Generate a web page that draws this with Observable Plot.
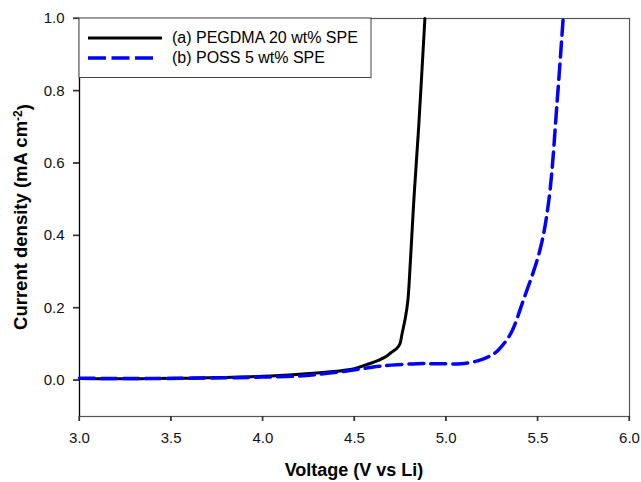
<!DOCTYPE html>
<html>
<head>
<meta charset="utf-8">
<script src="https://cdn.jsdelivr.net/npm/d3@7"></script>
<script src="https://cdn.jsdelivr.net/npm/@observablehq/plot@0.6"></script>
<style>
  html, body { margin: 0; padding: 0; background: #fff; }
  svg { font-family: "Liberation Sans", Arial, sans-serif; }
</style>
</head>
<body>
<script>
// Series (a) PEGDMA 20 wt% SPE
const voltA = [3.0, 3.2, 3.4, 3.6, 3.8, 4.0, 4.2, 4.4, 4.5, 4.57, 4.62, 4.67, 4.70, 4.73, 4.747, 4.76, 4.778, 4.791, 4.805, 4.824, 4.85, 4.884];
const currA = [0.005, 0.004, 0.005, 0.006, 0.008, 0.011, 0.017, 0.025, 0.032, 0.044, 0.053, 0.065, 0.077, 0.088, 0.10, 0.13, 0.174, 0.22, 0.33, 0.50, 0.70, 1.0];
// Series (b) POSS 5 wt% SPE
const voltB = [3.0, 3.2, 3.4, 3.6, 3.8, 4.0, 4.2, 4.4, 4.62, 4.7, 4.84, 4.95, 5.08, 5.15, 5.197, 5.25, 5.285, 5.351, 5.42, 5.511, 5.56, 5.606, 5.638];
const currB = [0.006, 0.005, 0.005, 0.006, 0.007, 0.009, 0.012, 0.022, 0.038, 0.042, 0.046, 0.046, 0.046, 0.051, 0.058, 0.07, 0.084, 0.128, 0.22, 0.359, 0.497, 0.775, 1.0];

const seriesNames = ["(a) PEGDMA 20 wt% SPE", "(b) POSS 5 wt% SPE"];
const xTicks = [3.0, 3.5, 4.0, 4.5, 5.0, 5.5, 6.0];
const yTicks = [0.0, 0.2, 0.4, 0.6, 0.8, 1.0];
const xTitle = "Voltage (V vs Li)";

const dataA = voltA.map((v, i) => ({v, c: currA[i]}));
const dataB = voltB.map((v, i) => ({v, c: currB[i]}));

const svg = Plot.plot({
  width: 641,
  height: 482,
  marginLeft: 79,
  marginRight: 12,
  marginTop: 18,
  marginBottom: 66,
  style: {fontFamily: "Liberation Sans, Arial, sans-serif", fontSize: "15px", background: "#fff", color: "#000"},
  x: {domain: [3, 6], label: null},
  y: {domain: [-0.1, 1.0], label: null},
  marks: [
    Plot.frame({stroke: "#555", strokeWidth: 1.2}),
    Plot.ruleX([3], {stroke: "#000", strokeWidth: 1.2}),
    Plot.axisX({ticks: xTicks, tickFormat: d3.format(".1f"), tickSize: 5, tickPadding: 11, stroke: "#333", strokeWidth: 1.2, fill: "#111", fontSize: 15}),
    Plot.axisY({ticks: yTicks, tickFormat: d3.format(".1f"), tickSize: 6, tickPadding: 9, stroke: "#333", strokeWidth: 1.2, fill: "#111", fontSize: 15}),
    Plot.line(dataA, {x: "v", y: "c", stroke: "#000", strokeWidth: 3, curve: "catmull-rom"}),
    Plot.line(dataB, {x: "v", y: "c", stroke: "#0000ff", strokeWidth: 3.5, strokeDasharray: "15,7", curve: "catmull-rom"})
  ]
});
document.body.appendChild(svg);

const s = d3.select(svg);
const xs = svg.scale("x"), ys = svg.scale("y");
// explicit outward tick marks from the plot's own scales
const tg = s.append("g").attr("stroke", "#333").attr("stroke-width", 1.2);
xTicks.forEach(t => tg.append("line").attr("x1", xs.apply(t)).attr("x2", xs.apply(t)).attr("y1", 416).attr("y2", 421));
yTicks.forEach(t => tg.append("line").attr("y1", ys.apply(t)).attr("y2", ys.apply(t)).attr("x1", 73).attr("x2", 79));

// Legend box
const lg = s.append("g").attr("text-anchor", "start");
lg.append("rect").attr("x", 79).attr("y", 18).attr("width", 292).attr("height", 59.5)
  .attr("fill", "#fff").attr("stroke", "#444").attr("stroke-width", 1);
lg.append("line").attr("x1", 88).attr("x2", 162).attr("y1", 38).attr("y2", 38)
  .attr("stroke", "#000").attr("stroke-width", 3);
lg.append("line").attr("x1", 88).attr("x2", 154).attr("y1", 58).attr("y2", 58)
  .attr("stroke", "#0000ff").attr("stroke-width", 3.5).attr("stroke-dasharray", "18,5.5");
lg.append("text").attr("x", 172).attr("y", 43).attr("font-size", 16).attr("fill", "#000").text(seriesNames[0]);
lg.append("text").attr("x", 172).attr("y", 63).attr("font-size", 16).attr("fill", "#000").text(seriesNames[1]);

// Axis titles
s.append("text").attr("x", 354).attr("y", 476).attr("text-anchor", "middle")
  .attr("font-size", 18).attr("font-weight", "bold").attr("fill", "#000").text(xTitle);
const yt = s.append("text").attr("transform", "translate(27,217) rotate(-90)").attr("text-anchor", "middle")
  .attr("font-size", 18.5).attr("font-weight", "bold").attr("fill", "#000");
yt.append("tspan").text("Current density (mA cm");
yt.append("tspan").attr("dy", "-0.45em").attr("font-size", 12).text("-2");
yt.append("tspan").attr("dy", "0.45em").text(")");
</script>
</body>
</html>
